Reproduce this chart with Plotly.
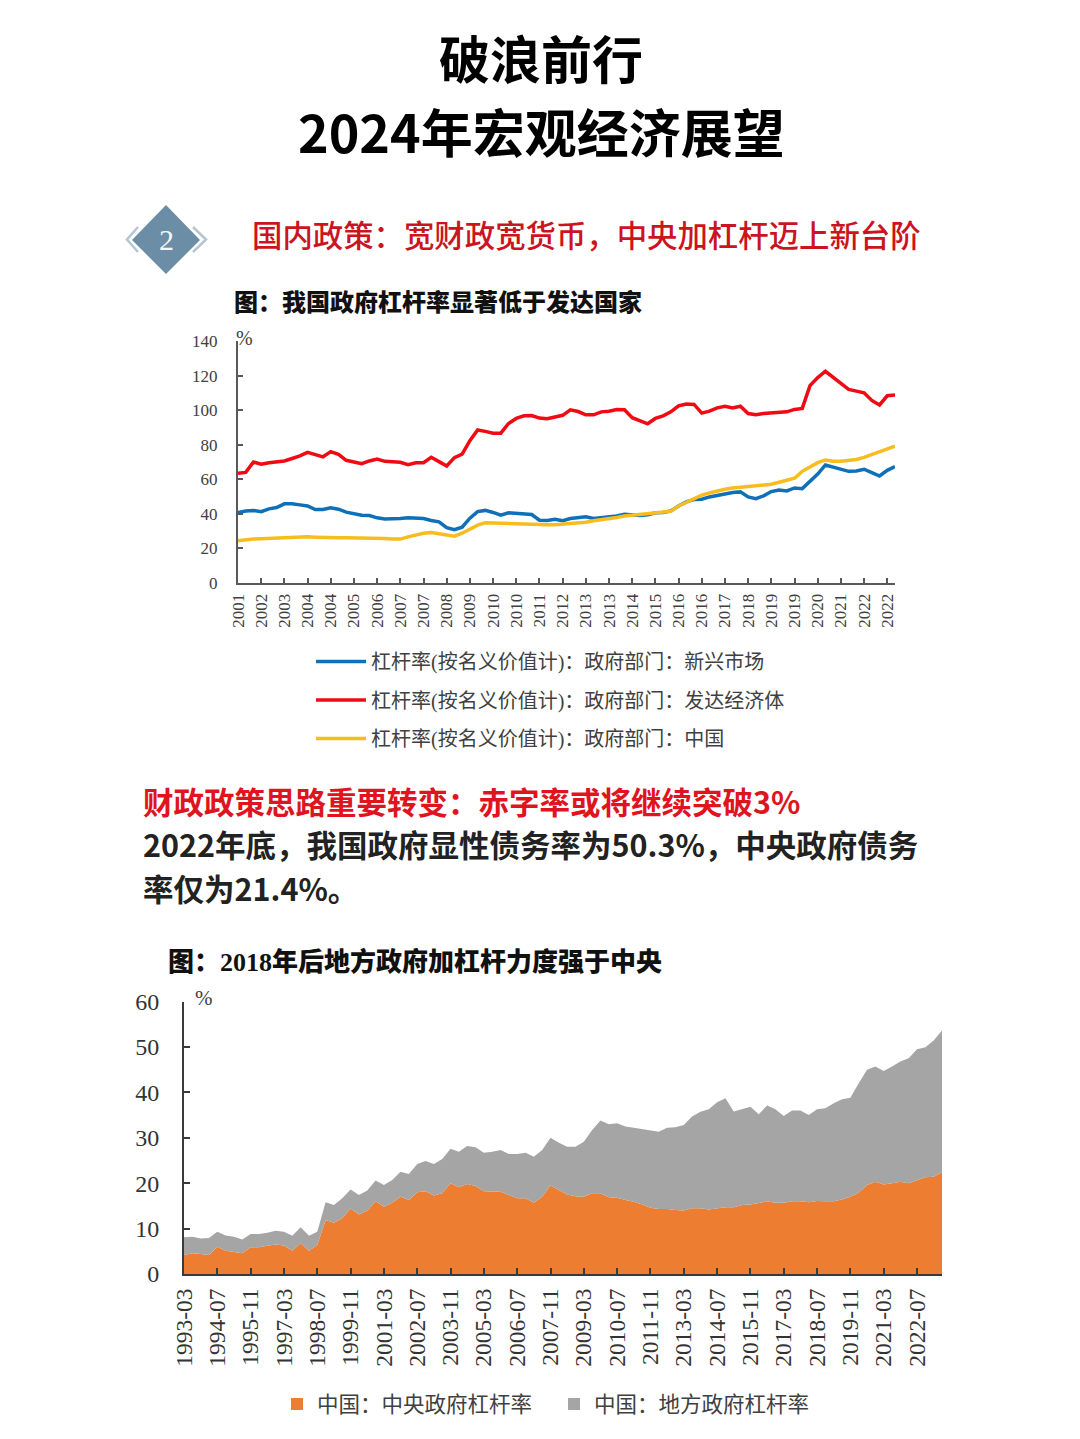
import plotly.graph_objects as go

W, H = 1080, 1439
SERIF = '"Liberation Serif", "Noto Sans CJK SC", serif'
SANS = '"Noto Sans CJK SC", sans-serif'

# Government leverage, quarterly, 2001-12 to 2023-03
quarters = [f"{y}-{m:02d}" for y in range(2001, 2024) for m in (3, 6, 9, 12)][3:89]
year_ticks = quarters[::3]
year_labels = [q[:4] for q in year_ticks]

emerging = [40.8, 41.7, 42.0, 41.3, 42.9, 43.7, 45.8, 45.8, 45.2, 44.6, 42.5, 42.5, 43.5, 42.7, 41.0, 40.0, 39.2,
            39.0, 37.7, 37.0, 37.0, 37.3, 37.7, 37.5, 37.3, 36.2, 35.4, 32.0, 30.8, 32.3, 37.5, 41.3, 42.0, 40.8,
            39.2, 40.6, 40.2, 40.0, 39.6, 36.3, 36.2, 36.9, 36.0, 37.3, 38.0, 38.3, 37.3, 37.7, 38.3, 38.8, 39.8,
            39.4, 39.0, 39.4, 40.6, 40.8, 41.7, 44.6, 46.9, 48.3, 48.5, 49.8, 50.8, 51.5, 52.3, 52.7, 49.8, 48.8,
            50.4, 52.9, 53.8, 53.3, 55.0, 54.6, 58.7, 63.0, 68.3, 67.1, 66.0, 64.6, 64.8, 65.8, 63.8, 61.9, 65.2, 67.3]
advanced = [63.5, 64.0, 70.0, 68.7, 69.6, 70.0, 70.6, 72.0, 73.5, 75.6, 74.4, 73.0, 76.0, 74.4, 71.0, 69.8, 69.0,
            70.6, 71.7, 70.4, 70.0, 69.8, 68.5, 69.6, 69.6, 72.7, 70.2, 67.7, 72.5, 74.6, 82.3, 88.5, 87.7, 86.7,
            86.7, 92.3, 95.2, 96.7, 96.9, 95.4, 95.0, 95.8, 97.0, 100.2, 99.2, 97.3, 97.3, 99.0, 99.4, 100.4, 100.2,
            95.6, 94.0, 92.1, 95.2, 96.7, 99.0, 102.5, 103.5, 103.3, 98.3, 99.4, 101.3, 102.3, 101.3, 102.3, 98.0,
            97.3, 98.0, 98.3, 99.0, 99.0, 100.4, 101.0, 114.2, 118.8, 122.5, 118.8, 115.2, 112.0, 111.0, 110.0,
            105.6, 103.0, 108.3, 108.7]
china = [24.4, 25.0, 25.4, 25.6, 25.8, 26.2, 26.3, 26.5, 26.7, 26.7, 26.5, 26.3, 26.2, 26.2, 26.2, 26.2, 26.2,
         26.2, 26.0, 25.8, 25.4, 25.4, 26.7, 27.9, 28.8, 29.2, 28.5, 27.5, 27.1, 28.8, 31.2, 33.5, 34.8, 34.6,
         34.4, 34.2, 34.0, 33.8, 33.7, 33.7, 33.7, 33.7, 34.0, 34.2, 34.6, 35.2, 36.0, 36.5, 37.1, 37.9, 38.7,
         39.2, 39.8, 40.4, 40.8, 41.2, 41.5, 44.6, 46.7, 48.8, 50.8, 52.1, 53.3, 54.2, 55.0, 55.4, 55.8, 56.2,
         56.3, 57.1, 58.3, 59.4, 60.6, 64.6, 67.3, 69.6, 71.2, 70.4, 70.4, 71.0, 71.5, 72.7, 74.4, 75.8, 77.5, 79.2]

# Central and local leverage in China, every four months, 1993-03 to 2023-07
periods = [f"{1993 + (2 + 4 * i) // 12}-{(2 + 4 * i) % 12 + 1:02d}" for i in range(92)]
period_ticks = periods[::4]

central = [4.2, 4.55, 4.4, 4.2, 6.0, 5.1, 4.85, 4.55, 5.9, 5.9, 6.2, 6.5, 6.3, 5.1, 6.75, 5.1, 6.4, 11.9, 11.3,
           12.3, 14.4, 13.1, 13.95, 16.0, 14.8, 15.7, 17.0, 16.3, 18.0, 18.2, 17.3, 17.8, 20.0, 19.1, 19.8, 19.4,
           18.2, 18.1, 18.1, 17.4, 16.7, 16.7, 15.7, 17.0, 19.5, 18.5, 17.5, 17.1, 17.0, 17.8, 17.8, 16.9, 16.8,
           16.3, 15.9, 15.3, 14.6, 14.3, 14.3, 14.1, 14.0, 14.5, 14.5, 14.2, 14.4, 14.7, 14.7, 15.2, 15.3, 15.7,
           16.0, 15.7, 15.7, 16.0, 16.0, 15.8, 16.1, 16.0, 16.0, 16.4, 17.0, 17.9, 19.6, 20.3, 19.7, 20.0, 20.3,
           20.0, 20.7, 21.3, 21.4, 22.4]
combined = [8.1, 8.2, 7.8, 7.9, 9.3, 8.5, 8.2, 7.6, 8.8, 8.8, 9.1, 9.5, 9.3, 8.4, 10.3, 8.4, 9.3, 15.8, 15.2,
            16.7, 18.6, 17.4, 18.4, 20.6, 19.6, 20.7, 22.5, 22.0, 24.2, 24.9, 24.2, 25.3, 27.6, 26.9, 28.2, 27.9,
            26.7, 26.9, 27.3, 26.4, 26.4, 26.7, 25.8, 27.3, 30.0, 28.9, 28.0, 28.0, 29.1, 31.7, 33.8, 33.0, 33.2,
            32.5, 32.2, 31.9, 31.5, 31.3, 32.2, 32.3, 32.8, 34.7, 35.7, 36.3, 37.8, 38.7, 35.8, 36.3, 36.8, 35.2,
            37.1, 36.3, 34.8, 36.0, 36.0, 35.0, 36.3, 36.5, 37.6, 38.5, 38.8, 42.0, 45.0, 45.7, 44.7, 45.7, 46.8,
            47.5, 49.5, 49.9, 51.4, 53.6]
local = [round(t - c, 2) for t, c in zip(combined, central)]


def px(x):
    return x / W


def py(y):
    return 1 - y / H


def label(text, x, y, size, color="#000000", family=SANS, anchor="center", weight=400):
    return dict(text=text, xref="paper", yref="paper", x=px(x), y=py(y), xanchor=anchor, yanchor="middle",
                showarrow=False, font=dict(size=size, color=color, family=family, weight=weight))


def poly(points):
    return "M" + " L".join(f"{px(x):.5f},{py(y):.5f}" for x, y in points)


fig = go.Figure()

line_series = [("杠杆率(按名义价值计)\uff1a政府部门\uff1a新兴市场", emerging, "#0F70B7"),
               ("杠杆率(按名义价值计)\uff1a政府部门\uff1a发达经济体", advanced, "#F00A14"),
               ("杠杆率(按名义价值计)\uff1a政府部门\uff1a中国", china, "#F7BD1E")]
for name, values, color in line_series:
    fig.add_trace(go.Scatter(x=quarters, y=values, name=name, mode="lines", legendgroup=name,
                             line=dict(color=color, width=3.5)))

fig.add_trace(go.Scatter(x=periods, y=central, xaxis="x2", yaxis="y2", mode="lines", stackgroup="one",
                         line=dict(width=0), fillcolor="#ED7D31", showlegend=False))
fig.add_trace(go.Scatter(x=periods, y=local, xaxis="x2", yaxis="y2", mode="lines", stackgroup="one",
                         line=dict(width=0), fillcolor="#A5A5A5", showlegend=False))
for name, color in [("中国\uff1a中央政府杠杆率", "#ED7D31"), ("中国\uff1a地方政府杠杆率", "#A5A5A5")]:
    fig.add_trace(go.Scatter(x=[periods[0]], y=[None], xaxis="x2", yaxis="y2", name=name, mode="markers", legend="legend2",
                             marker=dict(symbol="square", size=12, color=color)))

axis_style = dict(showgrid=False, zeroline=False, showline=True, ticks="inside", mirror=False)

fig.update_layout(
    width=W, height=H, margin=dict(l=0, r=0, t=0, b=0, autoexpand=False), autosize=False,
    paper_bgcolor="#FFFFFF", plot_bgcolor="#FFFFFF",
    font=dict(family=SERIF),
    xaxis=dict(domain=[px(238), px(895)], anchor="y", type="category", range=[0, 85], categoryorder="array",
               categoryarray=quarters, tickmode="array", tickvals=year_ticks, ticktext=year_labels, tickangle=-90,
               linecolor="#595959", linewidth=2, tickcolor="#595959", tickwidth=1.5, ticklen=5, ticklabelstandoff=2,
               tickfont=dict(size=17, color="#404040", family=SERIF), **axis_style),
    yaxis=dict(domain=[py(583), py(341)], anchor="x", range=[0, 140], dtick=20, ticklabelstandoff=15,
               linecolor="#595959", linewidth=2, tickcolor="#595959", tickwidth=1.5, ticklen=5,
               tickfont=dict(size=17, color="#404040", family=SERIF), **axis_style),
    xaxis2=dict(domain=[px(184), px(942)], anchor="y2", type="category", range=[0, 91], categoryorder="array",
                categoryarray=periods, tickmode="array", tickvals=period_ticks, ticktext=period_ticks, tickangle=-90,
                linecolor="#3A3A3A", linewidth=2, tickcolor="#3A3A3A", tickwidth=1.5, ticklen=6, ticklabelstandoff=3,
                tickfont=dict(size=23.5, color="#333333", family=SERIF), **axis_style),
    yaxis2=dict(domain=[py(1274), py(1001.5)], anchor="x2", range=[0, 60], dtick=10, ticklabelstandoff=18,
                linecolor="#3A3A3A", linewidth=2, tickcolor="#3A3A3A", tickwidth=1.5, ticklen=6,
                tickfont=dict(size=24, color="#333333", family=SERIF), **axis_style),
    legend=dict(x=px(311), xanchor="left", y=py(642), yanchor="top", orientation="v", traceorder="grouped",
                itemwidth=50, tracegroupgap=9.5, bgcolor="rgba(0,0,0,0)",
                font=dict(size=20, color="#404040", family=SERIF), itemclick=False),
    legend2=dict(x=px(277), xanchor="left", y=py(1404), yanchor="middle", orientation="h", entrywidth=232,
                 entrywidthmode="pixels", bgcolor="rgba(0,0,0,0)",
                 font=dict(size=21.5, color="#404040", family=SERIF), itemclick=False),
    annotations=[
        label("破浪前行", 541, 57, 51, weight=700),
        label("2024年宏观经济展望", 541, 130, 52, weight=700),
        label("国内政策\uff1a宽财政宽货币\uff0c中央加杠杆迈上新台阶", 586, 234, 30.4, color="#CC1420", weight=500),
        label("图\uff1a我国政府杠杆率显著低于发达国家", 438, 300, 24, color="#111111", weight=900),
        label("%", 244, 338, 20, color="#404040", family=SERIF),
        label("财政政策思路重要转变\uff1a赤字率或将继续突破3%", 141, 801, 30.5, color="#E0141E", anchor="left", weight=700),
        label("2022年底\uff0c我国政府显性债务率为50.3%\uff0c中央政府债务", 141, 844, 30.5, color="#222222", anchor="left", weight=700),
        label("率仅为21.4%。", 141, 888, 30.5, color="#222222", anchor="left", weight=700),
        label("图\uff1a2018年后地方政府加杠杆力度强于中央", 166, 962, 26, color="#111111", family=SERIF, anchor="left", weight=900),
        label("%", 204, 998, 21, color="#404040", family=SERIF),
        label("2", 166, 240, 30, color="#F4F7F9", family=SERIF),
    ],
    shapes=[
        dict(type="path", xref="paper", yref="paper", fillcolor="#6B8EA6", line=dict(width=0),
             path=poly([(132, 240), (166, 205), (200, 240), (166, 274)]) + " Z"),
        dict(type="path", xref="paper", yref="paper", line=dict(color="#B4C6D2", width=2.5),
             path=poly([(138, 227), (127, 239.5), (138, 252)])),
        dict(type="path", xref="paper", yref="paper", line=dict(color="#B4C6D2", width=2.5),
             path=poly([(193, 227), (206, 239.5), (193, 252)])),
    ],
)

fig.write_html("out.html")
